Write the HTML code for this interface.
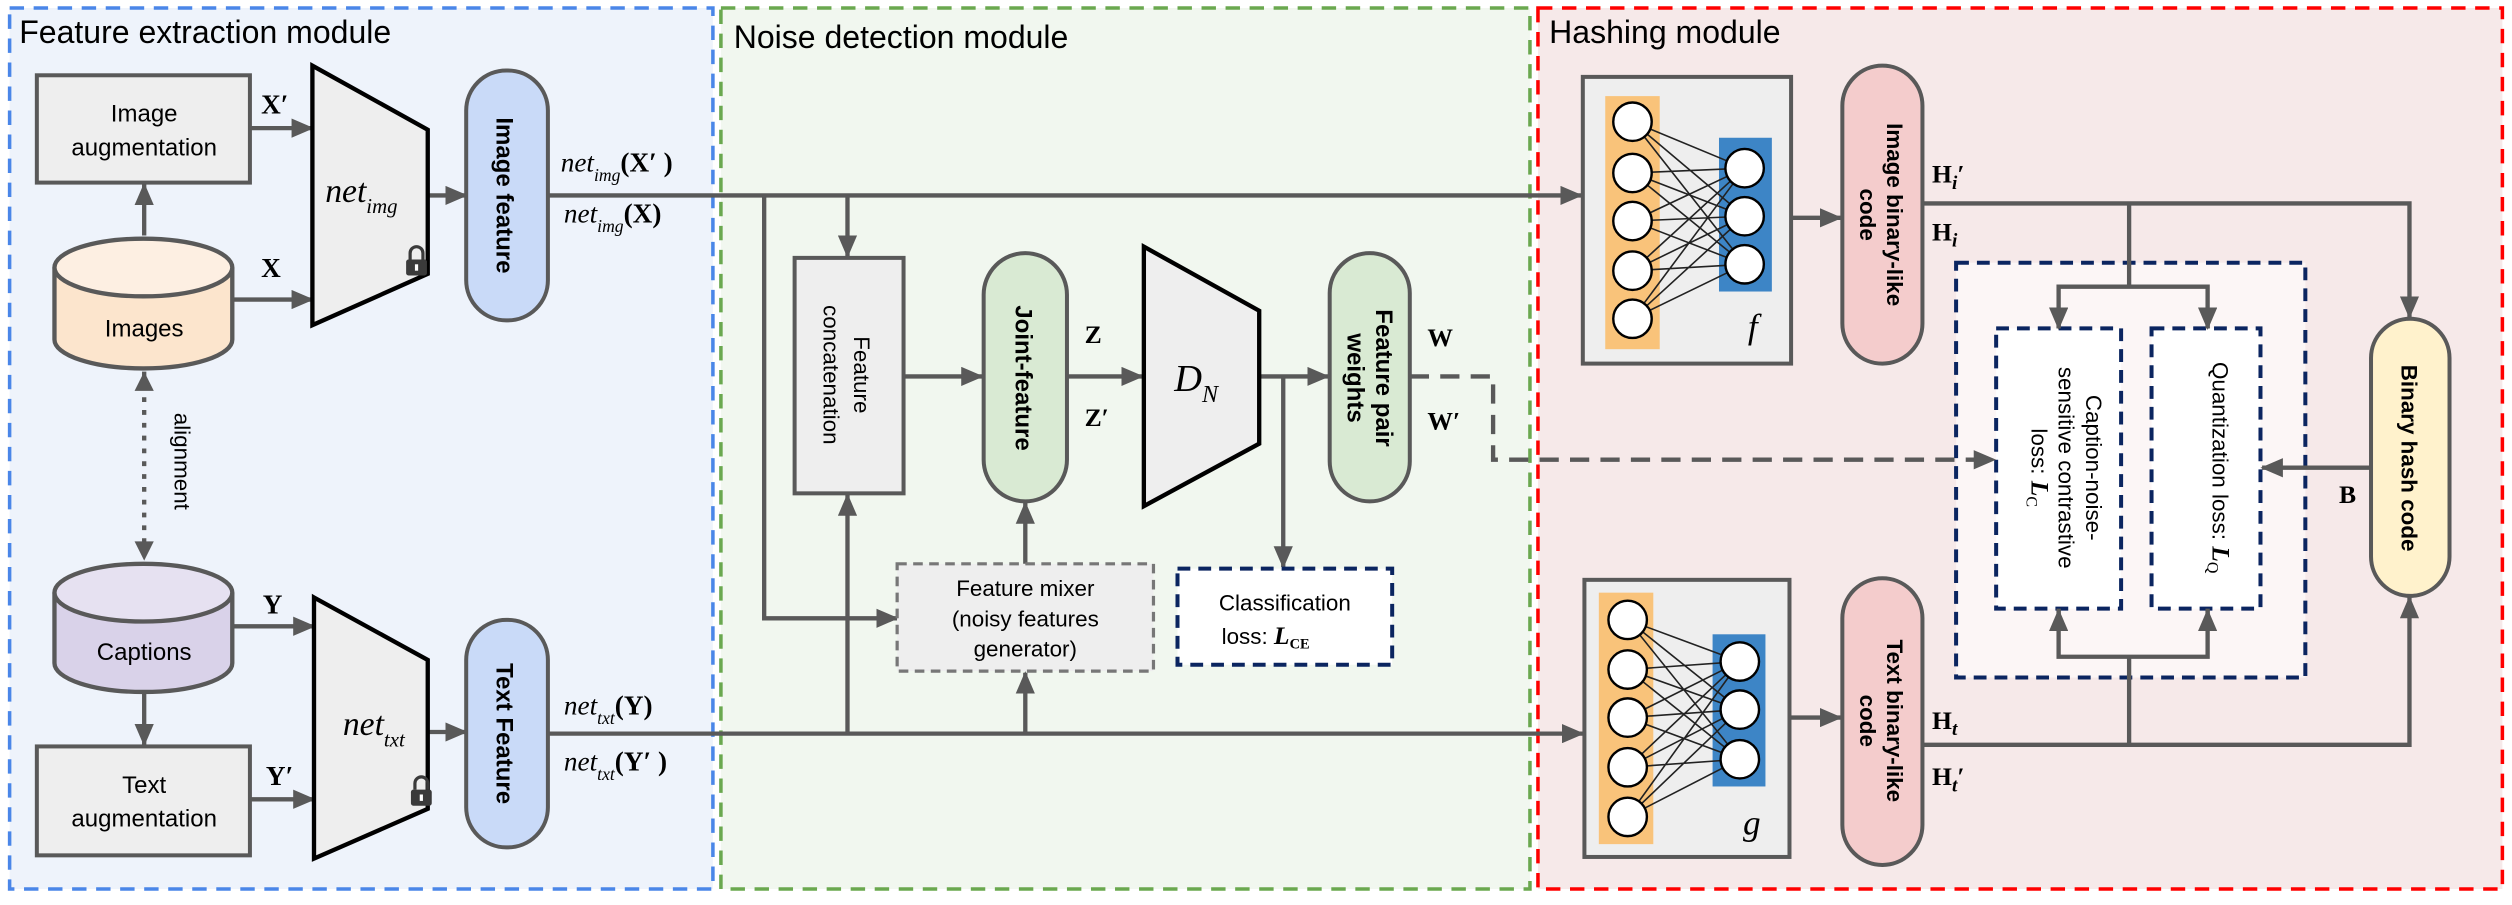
<!DOCTYPE html>
<html><head><meta charset="utf-8"><style>
html,body{margin:0;padding:0;background:#fff;}
svg{display:block}
text{font-family:"Liberation Sans",sans-serif;fill:#000}
.s{font-family:"Liberation Serif",serif}
</style></head><body>
<svg width="2512" height="905" viewBox="0 0 1568 565" preserveAspectRatio="none" xmlns="http://www.w3.org/2000/svg">
<defs>
<marker id="a" markerUnits="userSpaceOnUse" markerWidth="14" markerHeight="12" refX="13" refY="6" orient="auto"><path d="M0,0 L14,6 L0,12 Z" fill="#595959"/></marker>
<g id="lock"><path d="M-4,-1 v-4 a4,4 0 0 1 8,0 v4" fill="none" stroke="#3a3a3a" stroke-width="2"/><rect x="-6.5" y="-1" width="13" height="10" rx="1.5" fill="#3a3a3a"/><rect x="-1" y="2" width="2" height="4" fill="#fff"/></g>
</defs>
<!-- module boxes -->
<rect x="6" y="5" width="439" height="550" fill="#eef3fb" stroke="#4a86e8" stroke-width="2.2" stroke-dasharray="9,6"/>
<rect x="450" y="5" width="505" height="550" fill="#f1f7ef" stroke="#6aa84f" stroke-width="2.2" stroke-dasharray="9,6"/>
<rect x="960" y="5" width="602" height="550" fill="#f6e9e9" stroke="#f00" stroke-width="2.2" stroke-dasharray="9,6"/>
<text x="12" y="27" font-size="20">Feature extraction module</text>
<text x="458" y="30" font-size="20">Noise detection module</text>
<text x="967" y="27" font-size="20">Hashing module</text>

<!-- loss boxes (background) -->
<rect x="1221" y="164" width="218" height="259" fill="#fcf6f6" stroke="#0b2560" stroke-width="2.5" stroke-dasharray="8,5"/>
<rect x="1246" y="205" width="78" height="175" fill="#fff" stroke="#0b2560" stroke-width="2.5" stroke-dasharray="8,5"/>
<rect x="1343" y="205" width="68" height="175" fill="#fff" stroke="#0b2560" stroke-width="2.5" stroke-dasharray="8,5"/>

<g stroke="#595959" stroke-width="2.7" fill="none">
<!-- left -->
<line x1="90" y1="147" x2="90" y2="115" marker-end="url(#a)"/>
<line x1="90" y1="432" x2="90" y2="465" marker-end="url(#a)"/>
<line x1="90" y1="240" x2="90" y2="340" stroke-dasharray="3,5"/>
<line x1="156" y1="80" x2="195" y2="80" marker-end="url(#a)"/>
<line x1="145" y1="187" x2="195" y2="187" marker-end="url(#a)"/>
<line x1="145" y1="391" x2="196" y2="391" marker-end="url(#a)"/>
<line x1="156" y1="499" x2="196" y2="499" marker-end="url(#a)"/>
<line x1="267" y1="122" x2="291" y2="122" marker-end="url(#a)"/>
<line x1="267" y1="457" x2="291" y2="457" marker-end="url(#a)"/>
<line x1="342" y1="122" x2="987" y2="122" marker-end="url(#a)"/>
<line x1="342" y1="458" x2="988" y2="458" marker-end="url(#a)"/>
<!-- noise -->
<polyline points="477,122 477,386 560,386" marker-end="url(#a)"/>
<line x1="529" y1="122" x2="529" y2="160" marker-end="url(#a)"/>
<line x1="529" y1="458" x2="529" y2="309" marker-end="url(#a)"/>
<line x1="640" y1="458" x2="640" y2="420" marker-end="url(#a)"/>
<line x1="640" y1="352" x2="640" y2="314" marker-end="url(#a)"/>
<line x1="564" y1="235" x2="613" y2="235" marker-end="url(#a)"/>
<line x1="666" y1="235" x2="713" y2="235" marker-end="url(#a)"/>
<line x1="786" y1="235" x2="829" y2="235" marker-end="url(#a)"/>
<line x1="801" y1="235" x2="801" y2="354" marker-end="url(#a)"/>
<polyline points="880,235 932,235 932,287 1245,287" stroke-dasharray="12,7" marker-end="url(#a)"/>
<!-- hashing -->
<line x1="1118" y1="136" x2="1149" y2="136" marker-end="url(#a)"/>
<line x1="1117" y1="448" x2="1149" y2="448" marker-end="url(#a)"/>
<polyline points="1200,127 1504,127 1504,198" marker-end="url(#a)"/>
<polyline points="1329,127 1329,179"/>
<polyline points="1285,205 1285,179 1378,179 1378,205"/>
<line x1="1285" y1="195" x2="1285" y2="205" marker-end="url(#a)"/>
<line x1="1378" y1="195" x2="1378" y2="205" marker-end="url(#a)"/>
<polyline points="1200,465 1504,465 1504,373" marker-end="url(#a)"/>
<polyline points="1329,465 1329,410"/>
<polyline points="1285,380 1285,410 1378,410 1378,380"/>
<line x1="1285" y1="390" x2="1285" y2="381" marker-end="url(#a)"/>
<line x1="1378" y1="390" x2="1378" y2="381" marker-end="url(#a)"/>
<line x1="1480" y1="292" x2="1412" y2="292" marker-end="url(#a)"/>
</g>

<!-- left boxes -->
<rect x="23" y="47" width="133" height="67" fill="#eeeeee" stroke="#595959" stroke-width="2.5"/>
<text x="90" y="76" font-size="15" text-anchor="middle">Image</text>
<text x="90" y="97" font-size="15" text-anchor="middle">augmentation</text>
<rect x="23" y="466" width="133" height="68" fill="#eeeeee" stroke="#595959" stroke-width="2.5"/>
<text x="90" y="495" font-size="15" text-anchor="middle">Text</text>
<text x="90" y="516" font-size="15" text-anchor="middle">augmentation</text>
<!-- cylinders -->
<path d="M34,167 V212 A55.5,18 0 0 0 145,212 V167" fill="#fce5cd" stroke="#595959" stroke-width="2.7"/>
<ellipse cx="89.5" cy="167" rx="55.5" ry="18" fill="#fdefe2" stroke="#595959" stroke-width="2.7"/>
<text x="90" y="210" font-size="15" text-anchor="middle">Images</text>
<path d="M34,370 V414 A55.5,18 0 0 0 145,414 V370" fill="#d9d2e9" stroke="#595959" stroke-width="2.7"/>
<ellipse cx="89.5" cy="370" rx="55.5" ry="18" fill="#e6e1f1" stroke="#595959" stroke-width="2.7"/>
<text x="90" y="412" font-size="15" text-anchor="middle">Captions</text>
<line x1="90" y1="232" x2="90" y2="238" stroke="#595959" stroke-width="2.7"/>
<path d="M84,244 L90,232 L96,244 Z" fill="#595959"/>
<path d="M84,338 L90,350 L96,338 Z" fill="#595959"/>
<text transform="translate(109,288) rotate(90)" font-size="14" text-anchor="middle">alignment</text>
<text x="163" y="71" font-size="17" class="s" font-weight="bold">X′</text>
<text x="163" y="173" font-size="17" class="s" font-weight="bold">X</text>
<text x="164" y="383" font-size="17" class="s" font-weight="bold">Y</text>
<text x="166" y="490" font-size="17" class="s" font-weight="bold">Y′</text>
<!-- trapezoids -->
<path d="M195,41 L267,81 L267,171 L195,203 Z" fill="#eeeeee" stroke="#000" stroke-width="2.7"/>
<text x="203" y="126" font-size="21" class="s" font-style="italic">net<tspan font-size="13" dy="7">img</tspan></text>
<use href="#lock" x="260" y="163"/>
<path d="M196,373 L267,412 L267,505 L196,536 Z" fill="#eeeeee" stroke="#000" stroke-width="2.7"/>
<text x="214" y="459" font-size="21" class="s" font-style="italic">net<tspan font-size="13" dy="7">txt</tspan></text>
<use href="#lock" x="263" y="494"/>
<!-- pills -->
<rect x="291" y="44" width="51" height="156" rx="25" fill="#c9daf8" stroke="#595959" stroke-width="2.5"/>
<text transform="translate(310,122) rotate(90)" font-size="15" font-weight="bold" text-anchor="middle">Image feature</text>
<rect x="291" y="387" width="51" height="142" rx="25" fill="#c9daf8" stroke="#595959" stroke-width="2.5"/>
<text transform="translate(310,458) rotate(90)" font-size="15" font-weight="bold" text-anchor="middle">Text Feature</text>
<g class="s" font-size="17" font-style="italic">
<text x="350" y="107" class="s">net<tspan font-size="11" dy="6">img</tspan><tspan font-style="normal" font-weight="bold" dy="-6">(X′ )</tspan></text>
<text x="352" y="139" class="s">net<tspan font-size="11" dy="6">img</tspan><tspan font-style="normal" font-weight="bold" dy="-6">(X)</tspan></text>
<text x="352" y="446" class="s">net<tspan font-size="11" dy="6">txt</tspan><tspan font-style="normal" font-weight="bold" dy="-6">(Y)</tspan></text>
<text x="352" y="481" class="s">net<tspan font-size="11" dy="6">txt</tspan><tspan font-style="normal" font-weight="bold" dy="-6">(Y′ )</tspan></text>
</g>

<!-- noise module -->
<rect x="496" y="161" width="68" height="147" fill="#eeeeee" stroke="#595959" stroke-width="2.5"/>
<text transform="translate(530,234) rotate(90)" font-size="14" text-anchor="middle"><tspan x="0" dy="-3">Feature</tspan><tspan x="0" dy="19">concatenation</tspan></text>
<rect x="560" y="352" width="160" height="67" fill="#eeeeee" stroke="#777" stroke-width="2" stroke-dasharray="6,4"/>
<text x="640" y="372" font-size="14" text-anchor="middle">Feature mixer</text>
<text x="640" y="391" font-size="14" text-anchor="middle">(noisy features</text>
<text x="640" y="410" font-size="14" text-anchor="middle">generator)</text>
<rect x="614" y="158" width="52" height="155" rx="26" fill="#d9ead3" stroke="#595959" stroke-width="2.5"/>
<text transform="translate(634,236) rotate(90)" font-size="15" font-weight="bold" text-anchor="middle">Joint-feature</text>
<text x="677" y="214" font-size="16" class="s" font-weight="bold">Z</text>
<text x="677" y="266" font-size="16" class="s" font-weight="bold">Z′</text>
<path d="M714,154 L786,194 L786,277 L714,316 Z" fill="#eeeeee" stroke="#000" stroke-width="2.7"/>
<text x="733" y="244" font-size="24" class="s" font-style="italic">D<tspan font-size="15" dy="7">N</tspan></text>
<rect x="830" y="158" width="50" height="155" rx="25" fill="#d9ead3" stroke="#595959" stroke-width="2.5"/>
<text transform="translate(855,236) rotate(90)" font-size="15" font-weight="bold" text-anchor="middle"><tspan x="0" dy="-4">Feature pair</tspan><tspan x="0" dy="18">weights</tspan></text>
<text x="891" y="216" font-size="16" class="s" font-weight="bold">W</text>
<text x="891" y="268" font-size="16" class="s" font-weight="bold">W′</text>
<rect x="735" y="355" width="134" height="60" fill="#fff" stroke="#0b2560" stroke-width="2.5" stroke-dasharray="8,5"/>
<text x="802" y="381" font-size="14" text-anchor="middle">Classification</text>
<text x="790" y="402" font-size="14" text-anchor="middle">loss: <tspan class="s" font-style="italic" font-weight="bold" font-size="16">L</tspan><tspan class="s" font-size="9" font-weight="bold" dy="3">CE</tspan></text>

<!-- hashing: f -->
<rect x="988" y="48" width="130" height="179" fill="#eeeeee" stroke="#595959" stroke-width="2.5"/>
<rect x="1002" y="60" width="34" height="158" fill="#f9c37a"/>
<rect x="1073" y="86" width="33" height="96" fill="#3d85c6"/>
<g stroke="#222" stroke-width="1">
<path d="M1019,76 L1089,105 M1019,76 L1089,135 M1019,76 L1089,165 M1019,108 L1089,105 M1019,108 L1089,135 M1019,108 L1089,165 M1019,138 L1089,105 M1019,138 L1089,135 M1019,138 L1089,165 M1019,169 L1089,105 M1019,169 L1089,135 M1019,169 L1089,165 M1019,199 L1089,105 M1019,199 L1089,135 M1019,199 L1089,165"/>
</g>
<g fill="#fff" stroke="#000" stroke-width="1.5">
<ellipse cx="1019" cy="76" rx="12" ry="12"/><ellipse cx="1019" cy="108" rx="12" ry="12"/><ellipse cx="1019" cy="138" rx="12" ry="12"/><ellipse cx="1019" cy="169" rx="12" ry="12"/><ellipse cx="1019" cy="199" rx="12" ry="12"/>
<ellipse cx="1089" cy="105" rx="12" ry="12"/><ellipse cx="1089" cy="135" rx="12" ry="12"/><ellipse cx="1089" cy="165" rx="12" ry="12"/>
</g>
<text x="1091" y="211" font-size="22" class="s" font-style="italic">f</text>
<!-- g -->
<rect x="989" y="362" width="128" height="173" fill="#eeeeee" stroke="#595959" stroke-width="2.5"/>
<rect x="998" y="370" width="34" height="157" fill="#f9c37a"/>
<rect x="1069" y="396" width="33" height="95" fill="#3d85c6"/>
<g stroke="#222" stroke-width="1">
<path d="M1016,387 L1086,413 M1016,387 L1086,443 M1016,387 L1086,474 M1016,418 L1086,413 M1016,418 L1086,443 M1016,418 L1086,474 M1016,448 L1086,413 M1016,448 L1086,443 M1016,448 L1086,474 M1016,479 L1086,413 M1016,479 L1086,443 M1016,479 L1086,474 M1016,510 L1086,413 M1016,510 L1086,443 M1016,510 L1086,474"/>
</g>
<g fill="#fff" stroke="#000" stroke-width="1.5">
<ellipse cx="1016" cy="387" rx="12" ry="12"/><ellipse cx="1016" cy="418" rx="12" ry="12"/><ellipse cx="1016" cy="448" rx="12" ry="12"/><ellipse cx="1016" cy="479" rx="12" ry="12"/><ellipse cx="1016" cy="510" rx="12" ry="12"/>
<ellipse cx="1086" cy="413" rx="12" ry="12"/><ellipse cx="1086" cy="443" rx="12" ry="12"/><ellipse cx="1086" cy="474" rx="12" ry="12"/>
</g>
<text x="1088" y="521" font-size="22" class="s" font-style="italic">g</text>
<!-- code pills -->
<rect x="1150" y="41" width="50" height="186" rx="25" fill="#f4cccc" stroke="#595959" stroke-width="2.5"/>
<text transform="translate(1175,134) rotate(90)" font-size="14" font-weight="bold" text-anchor="middle"><tspan x="0" dy="-3">Image binary-like</tspan><tspan x="0" dy="17">code</tspan></text>
<rect x="1150" y="361" width="50" height="179" rx="25" fill="#f4cccc" stroke="#595959" stroke-width="2.5"/>
<text transform="translate(1175,450) rotate(90)" font-size="14" font-weight="bold" text-anchor="middle"><tspan x="0" dy="-3">Text binary-like</tspan><tspan x="0" dy="17">code</tspan></text>
<g class="s" font-size="16" font-weight="bold">
<text x="1206" y="114" class="s">H<tspan font-style="italic" font-size="12" dy="4">i</tspan><tspan dy="-4">′</tspan></text>
<text x="1206" y="150" class="s">H<tspan font-style="italic" font-size="12" dy="4">i</tspan></text>
<text x="1206" y="455" class="s">H<tspan font-style="italic" font-size="12" dy="4">t</tspan></text>
<text x="1206" y="490" class="s">H<tspan font-style="italic" font-size="12" dy="4">t</tspan><tspan dy="-4">′</tspan></text>
<text x="1460" y="314" class="s">B</text>
</g>
<!-- loss texts -->
<text transform="translate(1286,292) rotate(90)" font-size="14" text-anchor="middle"><tspan x="0" dy="-16">Caption-noise-</tspan><tspan x="0" dy="17">sensitive contrastive</tspan><tspan x="0" dy="17">loss: </tspan><tspan class="s" font-style="italic" font-weight="bold" font-size="16">L</tspan><tspan class="s" font-size="10" dy="3">C</tspan></text>
<text transform="translate(1377,292) rotate(90)" font-size="14" text-anchor="middle"><tspan x="0" dy="-4">Quantization loss: </tspan><tspan class="s" font-style="italic" font-weight="bold" font-size="16">L</tspan><tspan class="s" font-size="10" dy="3">Q</tspan></text>
<rect x="1480" y="199" width="49" height="173" rx="24.5" fill="#fff2cc" stroke="#595959" stroke-width="2.5"/>
<text transform="translate(1504,286) rotate(90)" font-size="14" font-weight="bold" text-anchor="middle" dy="5">Binary hash code</text>
</svg>
</body></html>
